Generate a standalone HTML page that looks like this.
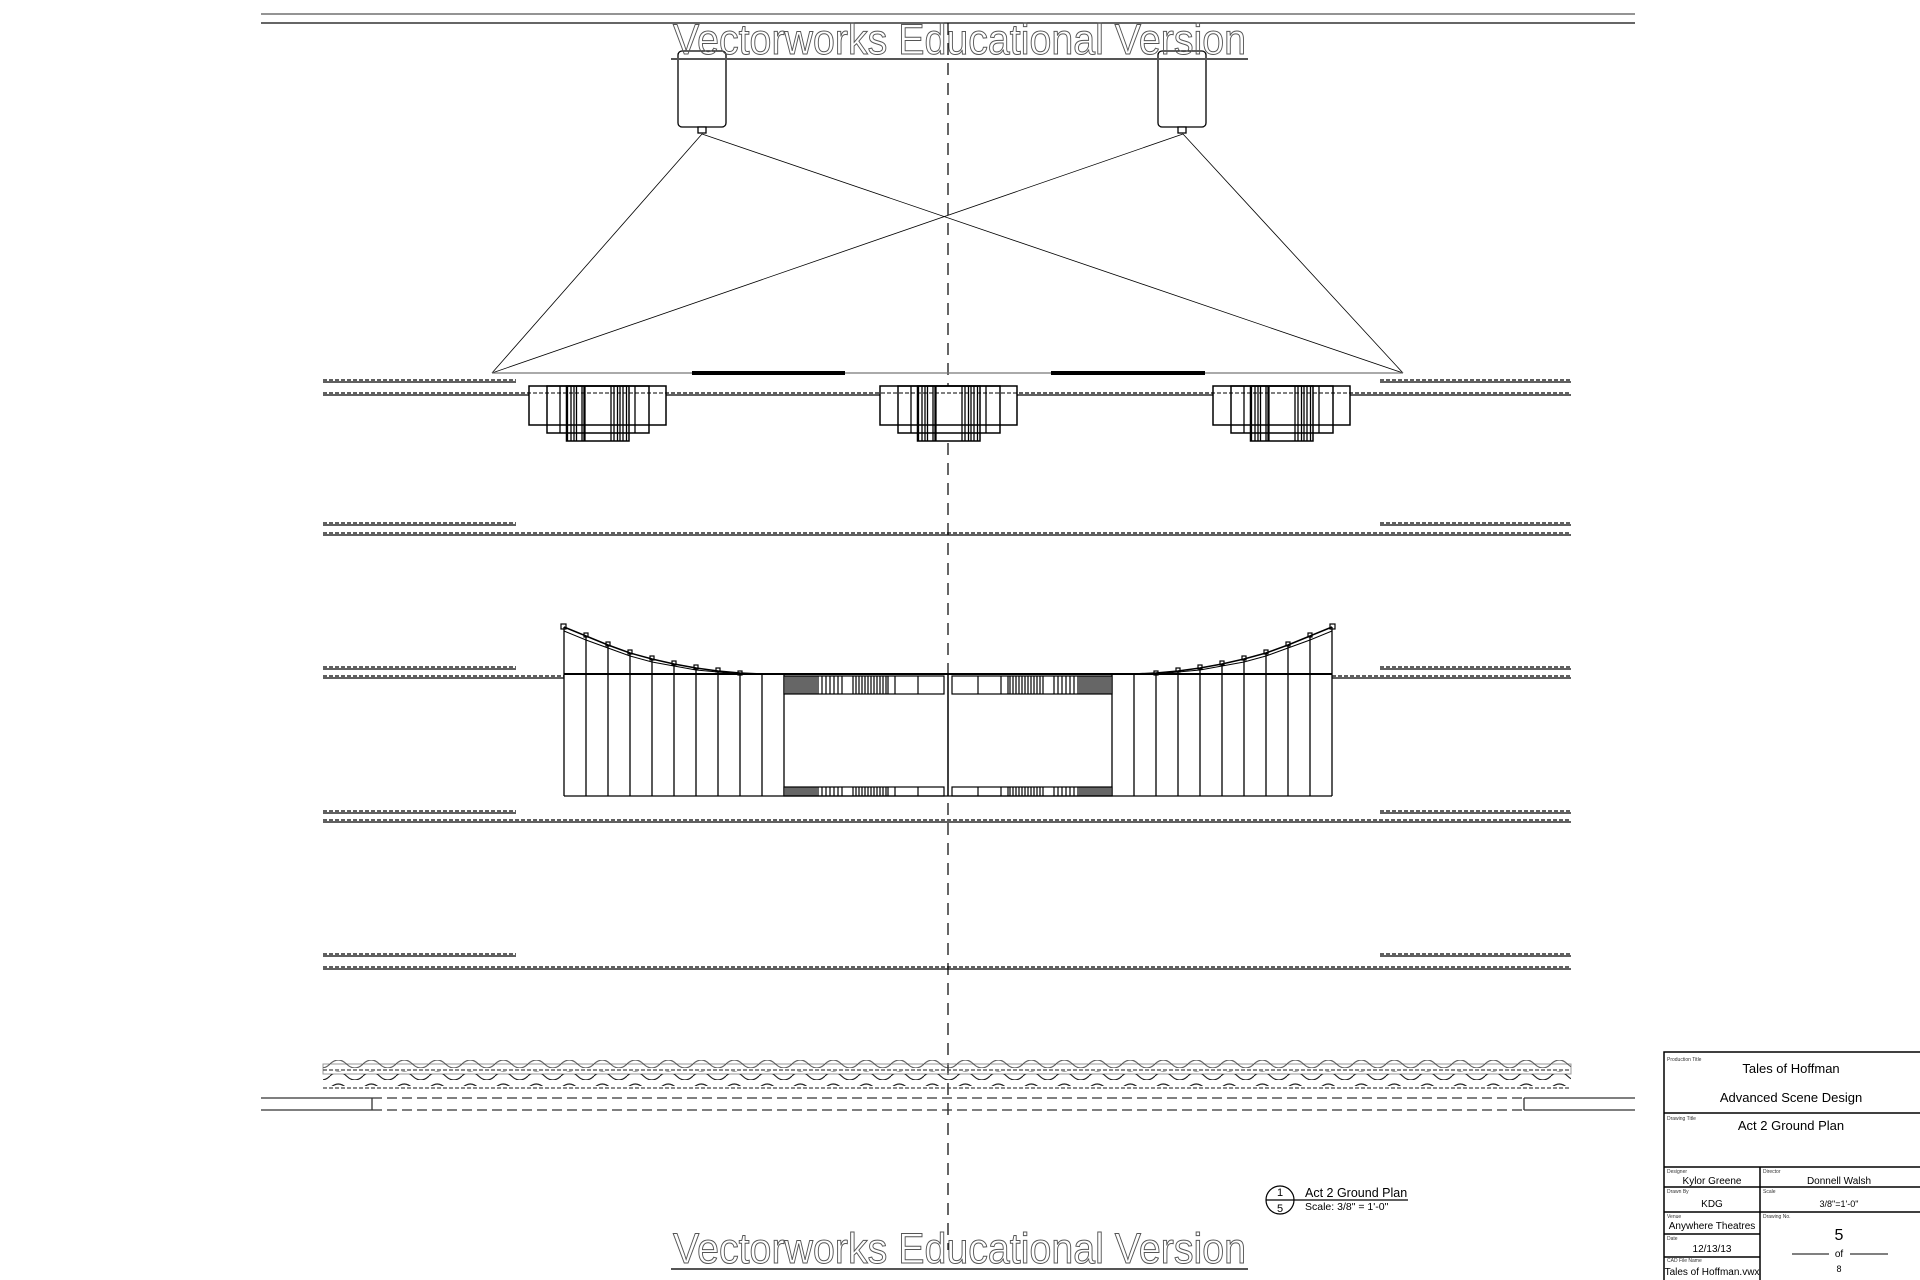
<!DOCTYPE html>
<html><head><meta charset="utf-8"><style>
html,body{margin:0;padding:0;background:#fff;}
svg{display:block;font-family:"Liberation Sans",Arial,sans-serif;}
</style></head><body>
<svg width="1920" height="1280" viewBox="0 0 1920 1280" xmlns="http://www.w3.org/2000/svg">
<defs>
<g id="mod" fill="none" stroke="#000" stroke-width="1.5">
<rect x="0" y="0" width="137" height="39"/>
<rect x="18" y="0" width="102" height="47"/>
<rect x="37.5" y="0" width="62.5" height="55"/>
<path d="M31,0V47M38.5,0V55M42,0V55M45,0V55M47.5,0V55M53,0V55M55,0V55M56,0V55M82,0V55M85,0V55M88.5,0V55M91,0V55M94,0V55M97.5,0V55M106,0V47" stroke-width="1.3"/>
</g>
<pattern id="wave" width="33" height="12" patternUnits="userSpaceOnUse">
<path d="M0,8 Q8.25,0 16.5,8 T33,8" fill="none" stroke="#222" stroke-width="1.2"/>
</pattern>
<g id="half" fill="none" stroke="#000">
<path d="M564,627 L586,636 608,645 630,653 652,659 674,664 696,668 718,671 740,673 762,674 784,674" stroke-width="1.5"/>
<path d="M564,631 L586,640 608,648 630,656 652,662 674,666 696,670 718,672 740,674" stroke-width="1"/>
<g stroke-width="1.2">
<rect x="561" y="624" width="5" height="5"/><rect x="584" y="633" width="4" height="4"/><rect x="606" y="642" width="4" height="4"/><rect x="628" y="650" width="4" height="4"/><rect x="650" y="656" width="4" height="4"/><rect x="672" y="661" width="4" height="4"/><rect x="694" y="665" width="4" height="4"/><rect x="716" y="668" width="4" height="4"/><rect x="738" y="671" width="4" height="4"/>
</g>
<path d="M564,627V796M586,636V796M608,645V796M630,653V796M652,659V796M674,664V796M696,668V796M718,671V796M740,673V796M762,674V796M784,674V796" stroke-width="1.3"/>
<rect x="784" y="676" width="160" height="18" stroke-width="1.2"/>
<rect x="784" y="787" width="160" height="9" stroke-width="1.2"/>
<path d="M786,676V694M788,676V694M790,676V694M792,676V694M794,676V694M796,676V694M798,676V694M800,676V694M802,676V694M804,676V694M806,676V694M808,676V694M810,676V694M812,676V694M814,676V694M816,676V694M818,676V694M822,676V694M826,676V694M830,676V694M834,676V694M838,676V694M842,676V694M853,676V694M856,676V694M859,676V694M862,676V694M865,676V694M868,676V694M871,676V694M874,676V694M877,676V694M880,676V694M883,676V694M886,676V694M888,676V694M895,676V694M918,676V694" stroke-width="1.2"/>
<path d="M786,787V796M788,787V796M790,787V796M792,787V796M794,787V796M796,787V796M798,787V796M800,787V796M802,787V796M804,787V796M806,787V796M808,787V796M810,787V796M812,787V796M814,787V796M816,787V796M818,787V796M822,787V796M826,787V796M830,787V796M834,787V796M838,787V796M842,787V796M853,787V796M856,787V796M859,787V796M862,787V796M865,787V796M868,787V796M871,787V796M874,787V796M877,787V796M880,787V796M883,787V796M886,787V796M888,787V796M895,787V796M918,787V796" stroke-width="1.2"/>
</g>
</defs>

<!-- top lines -->
<line x1="261" y1="14" x2="1635" y2="14" stroke="#555" stroke-width="1.2"/>
<line x1="261" y1="23" x2="1635" y2="23" stroke="#333" stroke-width="1.5"/>

<!-- center line -->
<line x1="948" y1="23" x2="948" y2="1250" stroke="#000" stroke-width="1.2" stroke-dasharray="12,8"/>

<!-- lamps -->
<g fill="#fff" stroke="#000" stroke-width="1.3">
<rect x="678" y="51" width="48" height="76" rx="4"/>
<rect x="698" y="127" width="8" height="6"/>
<rect x="1158" y="51" width="48" height="76" rx="4"/>
<rect x="1178" y="127" width="8" height="6"/>
</g>
<g stroke="#000" stroke-width="0.8">
<line x1="702" y1="134" x2="492" y2="373"/><line x1="702" y1="134" x2="1403" y2="373"/>
<line x1="1183" y1="134" x2="492" y2="373"/><line x1="1183" y1="134" x2="1403" y2="373"/>
</g>
<line x1="492" y1="373" x2="1403" y2="373" stroke="#777" stroke-width="1.2"/>
<line x1="692" y1="373" x2="845" y2="373" stroke="#000" stroke-width="4"/>
<line x1="1051" y1="373" x2="1205" y2="373" stroke="#000" stroke-width="4"/>

<!-- double lines -->
<g stroke="#000">
<g stroke-width="1.2" stroke-dasharray="4,2">
<path d="M323,380H516M1380,380H1571M323,393H1571M323,523H516M1380,523H1571M323,533H1571M323,667H516M1380,667H1571M323,676H564M1332,676H1571M323,811H516M1380,811H1571M323,820H1571M323,954H516M1380,954H1571M323,967H1571"/>
</g>
<g stroke-width="1.2">
<path d="M323,382H516M1380,382H1571M323,395H1571M323,525H516M1380,525H1571M323,535H1571M323,669H516M1380,669H1571M323,678H564M1332,678H1571M323,813H516M1380,813H1571M323,822H1571M323,956H516M1380,956H1571M323,969H1571"/>
</g>
</g>

<!-- modules -->
<g fill="#fff"><rect x="529" y="386" width="137" height="55"/><rect x="880" y="386" width="137" height="55"/><rect x="1213" y="386" width="137" height="55"/></g>
<use href="#mod" x="529" y="386"/>
<use href="#mod" x="880" y="386"/>
<use href="#mod" x="1213" y="386"/>
<line x1="323" y1="393" x2="1571" y2="393" stroke="#000" stroke-width="1" stroke-dasharray="4,2"/>

<!-- center unit -->
<rect x="564" y="676" width="768" height="120" fill="#fff"/>
<use href="#half"/>
<g transform="translate(1896,0) scale(-1,1)"><use href="#half"/></g>
<line x1="564" y1="674" x2="1332" y2="674" stroke="#000" stroke-width="2"/>
<line x1="564" y1="796" x2="1332" y2="796" stroke="#000" stroke-width="1.3"/>
<line x1="948" y1="674" x2="948" y2="796" stroke="#000" stroke-width="1.5"/>

<!-- waves -->
<rect x="323" y="1064" width="1248" height="10" fill="none" stroke="#999" stroke-width="1"/>
<rect x="323" y="1060" width="1248" height="12" fill="url(#wave)" opacity="0.7"/>
<line x1="323" y1="1070" x2="1571" y2="1070" stroke="#444" stroke-width="1.2" stroke-dasharray="4,2"/>
<rect x="323" y="1074" width="1248" height="12" fill="url(#wave)"/>
<line x1="323" y1="1088" x2="1571" y2="1088" stroke="#444" stroke-width="1.2" stroke-dasharray="4,2"/>

<!-- bottom lines -->
<g stroke="#333" stroke-width="1.3">
<path d="M261,1098H372M261,1110H372M1524,1098H1635M1524,1110H1635M372,1098V1110M1524,1098V1110"/>
<path d="M372,1098H1524M372,1110H1524" stroke-dasharray="10,5"/>
</g>

<!-- watermarks -->
<g fill="none" stroke="#555" stroke-width="1">
<text x="673" y="54" font-size="43" textLength="573" lengthAdjust="spacingAndGlyphs">Vectorworks Educational Version</text>
<text x="673" y="1263" font-size="43" textLength="573" lengthAdjust="spacingAndGlyphs">Vectorworks Educational Version</text>
</g>
<line x1="671" y1="59" x2="1248" y2="59" stroke="#555" stroke-width="2"/>
<line x1="671" y1="1269" x2="1248" y2="1269" stroke="#555" stroke-width="2"/>

<!-- drawing label -->
<circle cx="1280" cy="1200" r="14" fill="none" stroke="#000" stroke-width="1.2"/>
<line x1="1266" y1="1200" x2="1408" y2="1200" stroke="#000" stroke-width="1.2"/>
<text x="1280" y="1196" font-size="11" text-anchor="middle">1</text>
<text x="1280" y="1212" font-size="11" text-anchor="middle">5</text>
<text x="1305" y="1197" font-size="12.5">Act 2 Ground Plan</text>
<text x="1305" y="1210" font-size="10.5">Scale: 3/8" = 1'-0"</text>

<!-- title block -->
<g fill="none" stroke="#000" stroke-width="1.5">
<rect x="1664" y="1052" width="260" height="232"/>
<path d="M1664,1113H1920M1664,1167H1920M1664,1187H1920M1664,1212H1920M1664,1234H1760M1664,1257H1760M1760,1167V1280"/>
</g>
<g font-size="5" fill="#333">
<text x="1667" y="1061">Production Title</text>
<text x="1667" y="1120">Drawing Title</text>
<text x="1667" y="1173">Designer</text>
<text x="1763" y="1173">Director</text>
<text x="1667" y="1193">Drawn By</text>
<text x="1763" y="1193">Scale</text>
<text x="1667" y="1218">Venue</text>
<text x="1763" y="1218">Drawing No.</text>
<text x="1667" y="1240">Date</text>
<text x="1667" y="1262">CAD File Name</text>
</g>
<g fill="#000" text-anchor="middle">
<text x="1791" y="1073" font-size="13">Tales of Hoffman</text>
<text x="1791" y="1102" font-size="13">Advanced Scene Design</text>
<text x="1791" y="1130" font-size="13">Act 2 Ground Plan</text>
<text x="1712" y="1184" font-size="10">Kylor Greene</text>
<text x="1839" y="1184" font-size="10">Donnell Walsh</text>
<text x="1712" y="1207" font-size="10">KDG</text>
<text x="1839" y="1207" font-size="9">3/8"=1'-0"</text>
<text x="1712" y="1229" font-size="10">Anywhere Theatres</text>
<text x="1712" y="1252" font-size="10">12/13/13</text>
<text x="1712" y="1275" font-size="10">Tales of Hoffman.vwx</text>
<text x="1839" y="1240" font-size="16">5</text>
<text x="1839" y="1257" font-size="10">of</text>
<text x="1839" y="1272" font-size="9">8</text>
</g>
<path d="M1792,1254H1829M1850,1254H1888" stroke="#000" stroke-width="1"/>
</svg>
</body></html>
